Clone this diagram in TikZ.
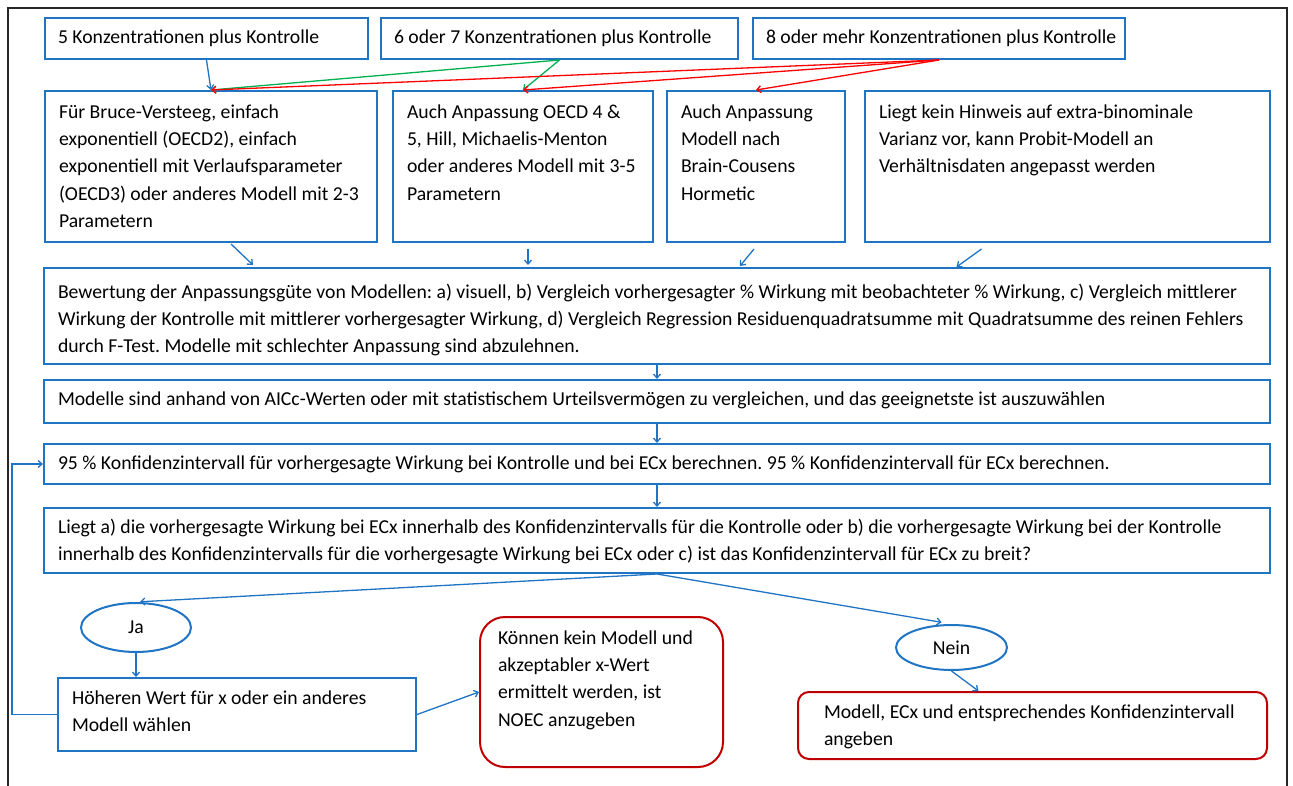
\documentclass[tikz,border=0pt]{standalone}
\usepackage{fontspec}
\setmainfont{Carlito}
\usepackage{xcolor}
\definecolor{cBlue}{HTML}{1F74C4}
\definecolor{cRed}{HTML}{C00000}
\definecolor{cLineRed}{HTML}{FF0000}
\definecolor{cGreen}{HTML}{00B050}
\definecolor{cFrame}{HTML}{262626}
\usepackage{tikz}
\usetikzlibrary{positioning,arrows.meta,shapes.geometric,calc}
\frenchspacing
\newcommand{\boxtext}[3]{\parbox[t][#2][t]{#1}{\raggedright\strut #3}}
\tikzset{
  box-blue/.style={draw=cBlue,line width=2pt,anchor=north west,
    inner xsep=14pt,inner ysep=8pt,font=\fontsize{19.7}{27.4}\selectfont},
  box-red/.style={box-blue,draw=cRed},
  node-answer/.style={draw=cBlue,line width=2pt,ellipse,inner sep=0pt,
    font=\fontsize{19.7}{27.4}\selectfont},
  arrow/.style={-{Straight Barb[length=4pt,width=7pt]},line width=1.3pt,draw=cBlue},
  arrow-red/.style={arrow,draw=cLineRed},
  arrow-green/.style={arrow,draw=cGreen},
  frame-line/.style={line width=1.5pt,draw=cFrame},
}
\begin{document}
\begin{tikzpicture}[x=1pt,y=-1pt]
  \useasboundingbox (0,0) rectangle (1293,786);
  \draw[frame-line] (8,786) -- (8,8) -- (1287,8) -- (1287,786);
  % Anzahl der Konzentrationen
  \foreach \name/\x/\w/\txt in {K5/44/323/5 Konzentrationen plus Kontrolle,
      K67/380/357/6 oder 7 Konzentrationen plus Kontrolle,
      K8/752/372/8 oder mehr Konzentrationen plus Kontrolle} {
    \node[box-blue,inner xsep=13pt,inner ysep=6pt] (\name) at (\x,17)
      {\boxtext{\dimexpr\w pt-26pt\relax}{29pt}{\mbox{\txt}}};
  }
  % Modelle
  \node[box-blue] (Simple) at (44,90) {\boxtext{304pt}{135pt}{Für Bruce-Versteeg, einfach\\
    exponentiell (OECD2), einfach\\ exponentiell mit Verlaufsparameter\\
    (OECD3) oder anderes Modell mit 2-3\\ Parametern}};
  \node[box-blue] (Ext) at (392,90) {\boxtext{232pt}{135pt}{Auch Anpassung OECD 4 \&\\
    5, Hill, Michaelis-Menton\\ oder anderes Modell mit 3-5\\ Parametern}};
  \node[box-blue] (Brain) at (666,90) {\boxtext{150pt}{135pt}{Auch Anpassung\\
    Modell nach\\ Brain-Cousens\\ Hormetic}};
  \node[box-blue] (Probit) at (864,90) {\boxtext{377pt}{135pt}{Liegt kein Hinweis auf extra-binominale\\
    Varianz vor, kann Probit-Modell an\\ Verhältnisdaten angepasst werden}};
  % Bewertung und Auswahl
  \node[box-blue,inner ysep=11pt] (Fit) at (43,267) {\boxtext{1198pt}{74pt}{Bewertung der
    Anpassungsgüte von Modellen: a) visuell, b) Vergleich vorhergesagter \% Wirkung mit beobachteter \% Wirkung, c) Vergleich mittlerer\\
    Wirkung der Kontrolle mit mittlerer vorhergesagter Wirkung, d) Vergleich Regression Residuenquadratsumme mit Quadratsumme des reinen Fehlers\\
    durch F-Test. Modelle mit schlechter Anpassung sind abzulehnen.}};
  \node[box-blue,inner ysep=6pt] (AICc) at (43,379) {\boxtext{1198pt}{31pt}{Modelle sind
    anhand von AICc-Werten oder mit statistischem Urteilsvermögen zu vergleichen, und das geeignetste ist auszuwählen}};
  \node[box-blue,inner ysep=6pt] (CI) at (43,443) {\boxtext{1198pt}{28pt}{95 \% Konfidenzintervall
    für vorhergesagte Wirkung bei Kontrolle und bei ECx berechnen. 95 \% Konfidenzintervall für ECx berechnen.}};
  \node[box-blue,inner ysep=6pt] (Check) at (43,507) {\boxtext{1198pt}{53pt}{Liegt a) die
    vorhergesagte Wirkung bei ECx innerhalb des Konfidenzintervalls für die Kontrolle oder b) die vorhergesagte Wirkung bei der Kontrolle\\
    innerhalb des Konfidenzintervalls für die vorhergesagte Wirkung bei ECx oder c) ist das Konfidenzintervall für ECx zu breit?}};
  % Entscheidung
  \node[node-answer,minimum width=110pt,minimum height=49pt] (Ja) at (136,627.5) {Ja};
  \node[node-answer,minimum width=111pt,minimum height=45pt] (Nein) at (951.5,647.5) {Nein};
  \node[box-blue,inner ysep=7pt] (Retry) at (57,677) {\boxtext{330pt}{59pt}{Höheren Wert für
    x oder ein anderes\\ Modell wählen}};
  \node[box-red,rounded corners=25pt,inner xsep=18pt] (NOEC) at (479,616) {\boxtext{207pt}{134pt}{Können
    kein Modell und\\ akzeptabler x-Wert\\ ermittelt werden, ist\\ NOEC anzugeben}};
  \node[box-red,rounded corners=11pt,inner xsep=26pt,inner ysep=7pt] (Report) at (797,691)
    {\boxtext{417pt}{53pt}{Modell, ECx und entsprechendes Konfidenzintervall\\ angeben}};
  % Pfeile
  \draw[arrow] (K5.south) -- (Simple.north);
  \draw[arrow-green] (K67.south) -- (Simple.north);
  \draw[arrow-green] (K67.south) -- (Ext.north);
  \draw[arrow-red] (K8.south) -- (Simple.north);
  \draw[arrow-red] (K8.south) -- (Ext.north);
  \draw[arrow-red] (K8.south) -- (Brain.north);
  \draw[arrow] ([shift={(20,1)}]Simple.south) -- ([shift={(42,22)}]Simple.south);
  \draw[arrow] ([shift={(5,6)}]Ext.south) -- ([shift={(5,22)}]Ext.south);
  \draw[arrow] ([shift={(-2,6)}]Brain.south) -- ([shift={(-16,23)}]Brain.south);
  \draw[arrow] ([shift={(-86,6)}]Probit.south) -- ([shift={(-111,24)}]Probit.south);
  \draw[arrow] (Fit) -- (AICc);
  \draw[arrow] (AICc) -- (CI);
  \draw[arrow] (CI) -- (Check);
  \draw[arrow,shorten >=4pt] (Check.south) -- (Ja.north);
  \draw[arrow,shorten >=10pt] (Check.south) -- (Nein.north);
  \draw[arrow] (Ja.south) -- (Ja.south |- Retry.north);
  \draw[arrow] (Retry.east) -- (NOEC.west);
  \draw[arrow] (Nein.south) -- ([xshift=-54pt]Report.north);
  \draw[arrow] (Retry.west) -- ++(-45,0) |- (CI.west);
\end{tikzpicture}
\end{document}
